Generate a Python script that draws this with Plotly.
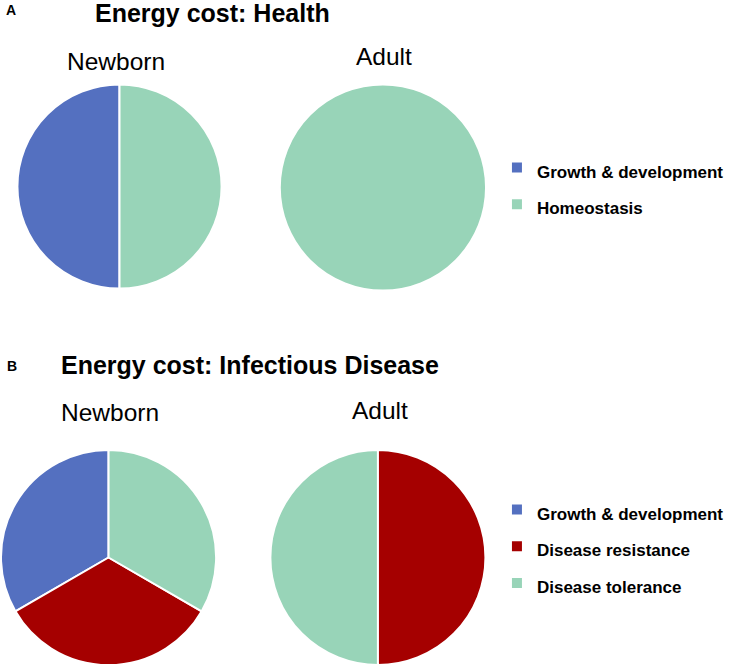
import plotly.graph_objects as go

W, H = 729, 667

# panel A: health
health_newborn_labels = ["Growth & development", "Homeostasis"]
health_newborn_values = [1, 1]
health_adult_labels = ["Homeostasis"]
health_adult_values = [1]

# panel B: infectious disease
disease_newborn_labels = ["Growth & development", "Disease resistance", "Disease tolerance"]
disease_newborn_values = [1, 1, 1]
disease_adult_labels = ["Disease tolerance", "Disease resistance"]
disease_adult_values = [1, 1]

colors = {
    "Growth & development": "#5470C0",
    "Homeostasis": "#98D4B8",
    "Disease resistance": "#A50000",
    "Disease tolerance": "#98D4B8",
}

FONT = "Arial, Liberation Sans, sans-serif"


def dom(cx, cy, r):
    # pixel centre/radius -> paper domain (plotly draws pies ~2px inside it)
    r += 2
    return dict(x=[(cx - r) / W, (cx + r) / W],
                y=[1 - (cy + r) / H, 1 - (cy - r) / H])


def pie(labels, values, d, legend, group):
    # legend font is large (for row spacing), the label itself is drawn at 17px
    shown = ["<span style='font-size:17px'>%s</span>" % l for l in labels]
    # first slice ends at 12 o'clock, on its left side, going counterclockwise
    rot = 360 - 360 * values[0] / sum(values)
    return go.Pie(
        labels=shown, values=values, domain=d,
        sort=False, direction="counterclockwise", rotation=rot,
        textinfo="none", hoverinfo="label+percent",
        marker=dict(colors=[colors[l] for l in labels],
                    line=dict(color="white", width=2)),
        legend=legend, legendgroup=group,
    )


fig = go.Figure([
    pie(health_newborn_labels, health_newborn_values, dom(120, 186.5, 100.5), "legend", "A"),
    pie(health_adult_labels, health_adult_values, dom(384.5, 187.5, 101.5), "legend", "A"),
    pie(disease_newborn_labels, disease_newborn_values, dom(109, 557.5, 106), "legend2", "B"),
    pie(disease_adult_labels, disease_adult_values, dom(379.5, 557.5, 106), "legend2", "B"),
])

annots = [
    ("<b>A</b>", 11, 10, 14),
    ("<b>Energy cost: Health</b>", 213, 13, 25),
    ("Newborn", 116.5, 61.5, 24.5),
    ("Adult", 386, 57, 24.5),
    ("<b>B</b>", 12, 366, 14),
    ("<b>Energy cost: Infectious Disease</b>", 251, 365, 25),
    ("Newborn", 110, 412, 24.5),
    ("Adult", 381.5, 411, 24.5),
]
legend_style = dict(xanchor="left", yanchor="middle", bgcolor="rgba(0,0,0,0)",
                    font=dict(family=FONT, size=26, color="black", weight="bold"))
fig.update_layout(
    annotations=[
        dict(text=t, x=x / W, y=1 - y / H, xref="paper", yref="paper",
             xanchor="center", yanchor="middle", showarrow=False,
             font=dict(family=FONT, size=s, color="black"))
        for t, x, y, s in annots
    ],
    legend=dict(x=499 / W, y=1 - 186 / H, **legend_style),
    legend2=dict(x=499 / W, y=1 - 546.5 / H, **legend_style),
    width=W, height=H,
    margin=dict(l=0, r=0, t=0, b=0),
    paper_bgcolor="white",
    font=dict(family=FONT),
)

fig.write_html("out.html", config={"displayModeBar": False},
               post_script="document.body.style.margin='0px';")
